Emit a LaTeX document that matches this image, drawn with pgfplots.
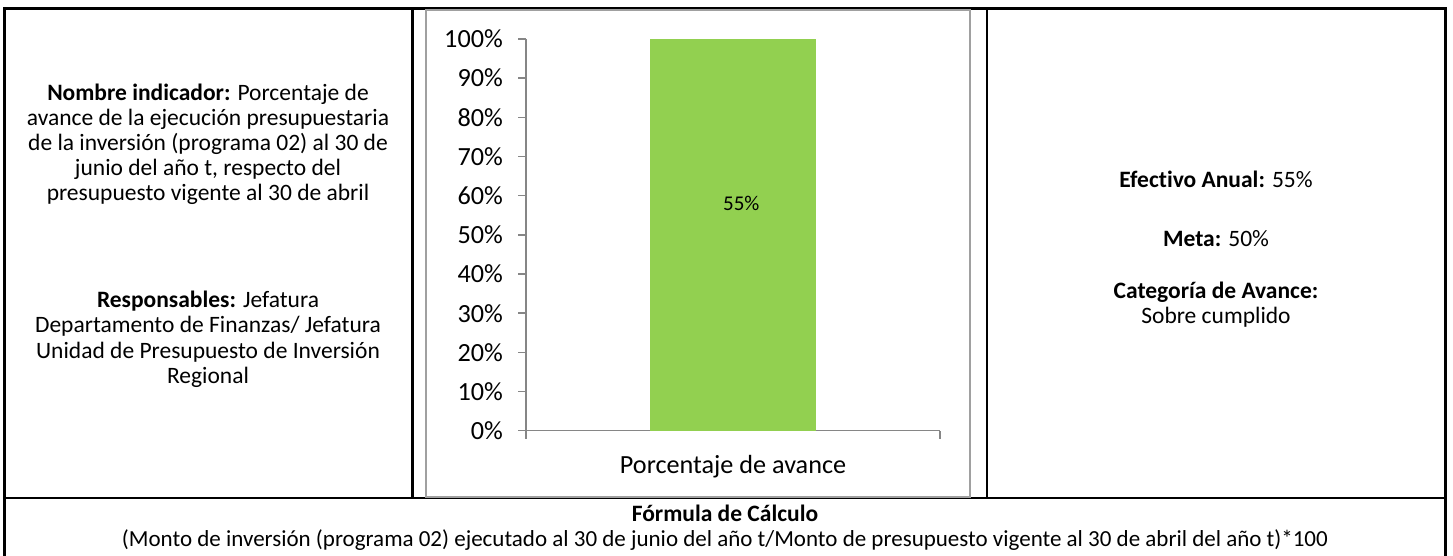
\documentclass[border=0pt]{standalone}
\usepackage{pgfplots}
\pgfplotsset{compat=1.18}
\usepackage{fontspec}
\setmainfont{Carlito}[Ligatures=NoCommon, RawFeature={-clig;-dlig}]
\definecolor{barGreen}{HTML}{92D050}
\definecolor{axisgray}{HTML}{868686}
\definecolor{framegray}{HTML}{A0A0A0}
\newcommand{\sidefont}{\fontsize{23.5bp}{25.5bp}\selectfont}
\newcommand{\chartfont}{\fontsize{26.2bp}{28bp}\selectfont}
\begin{document}
\begin{tikzpicture}[x=1bp,y=-1bp]
\useasboundingbox (0,0) rectangle (1453,556);
% table lines
\draw[line width=2.4bp] (4.5,560) -- (4.5,8.5) -- (1445.5,8.5) -- (1445.5,560);
\draw[line width=2.4bp] (412.5,8.5) -- (412.5,498);
\draw[line width=2.4bp] (987,8.5) -- (987,498);
\draw[line width=2.4bp] (4.5,498) -- (1445.5,498);
% chart frame
\draw[framegray, line width=2bp] (425.5,10.5) rectangle (969.5,496.5);
\begin{axis}[
  at={(526bp,-430.7bp)}, anchor=south west,
  scale only axis, width=414bp, height=391.7bp,
  xmin=0.5, xmax=1.5, ymin=0, ymax=100,
  axis x line=bottom, axis y line=left,
  axis line style={-, draw=axisgray, line width=1.5bp},
  tick style={draw=axisgray, line width=1.5bp},
  major tick length=8bp, tick align=outside,
  ytick={0,10,...,100},
  yticklabel={\pgfmathprintnumber{\tick}\%},
  /pgf/number format/assume math mode=true,
  yticklabel style={font=\chartfont, inner sep=0pt, anchor=east, xshift=-15bp},
  xtick={0.5,1.5}, xticklabels={},
  clip=false,
]
\addplot[ybar, bar width=166bp, fill=barGreen, draw=none] coordinates {(1,100)};
\node[font=\fontsize{21bp}{23bp}\selectfont] at (axis cs:1.02,58) {55\%};
\end{axis}
\node[anchor=base, font=\chartfont] at (733,473) {Porcentaje de avance};
% left column
\begin{scope}[every node/.style={anchor=base, font=\sidefont}]
\node at (208,101) {\textbf{Nombre indicador:} Porcentaje de};
\node at (208,126) {avance de la ejecución presupuestaria};
\node at (208,151) {de la inversión (programa 02) al 30 de};
\node at (208,176) {junio del año t, respecto del};
\node at (208,201) {presupuesto vigente al 30 de abril};
\node at (208,307) {\textbf{Responsables:} Jefatura};
\node at (208,332) {Departamento de Finanzas/ Jefatura};
\node at (208,358) {Unidad de Presupuesto de Inversión};
\node at (208,383) {Regional};
% right column
\node at (1216,188) {\textbf{Efectivo Anual:} 55\%};
\node at (1216,247) {\textbf{Meta:} 50\%};
\node at (1216,298) {\textbf{Categoría de Avance:}};
\node at (1216,323) {Sobre cumplido};
% bottom
\node at (725,521) {\textbf{Fórmula de Cálculo}};
\node[font=\fontsize{23bp}{25bp}\selectfont] at (725,546) {(Monto de inversión (programa 02) ejecutado al 30 de junio del año t/Monto de presupuesto vigente al 30 de abril del año t)*100};
\end{scope}
\end{tikzpicture}
\end{document}
